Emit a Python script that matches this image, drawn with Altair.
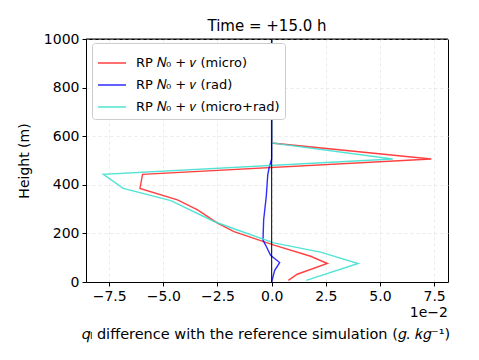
import altair as alt
import pandas as pd

series_names = ["RP 𝑁₀ + 𝜈 (micro)", "RP 𝑁₀ + 𝜈 (rad)", "RP 𝑁₀ + 𝜈 (micro+rad)"]
series_colors = ["#ff0000", "#0000ff", "#40e0d0"]

micro_h = [1000, 572, 506, 443, 385, 338, 297, 242, 207, 152, 106, 76, 32, 7]
micro_x = [0, 0, 7.37, -5.96, -6.08, -4.35, -3.42, -2.5, -1.74, 0.11, 1.8, 2.57, 1.18, 0.77]

rad_h = [1000, 506, 469, 441, 351, 255, 172, 152, 110, 80, 48, 0]
rad_x = [0, 0, -0.12, -0.18, -0.25, -0.37, -0.4, -0.28, -0.05, 0.37, 0.14, 0]

both_h = [1000, 572, 506, 443, 385, 335, 249, 214, 161, 123, 76, 7]
both_x = [0, 0, 5.59, -7.77, -6.85, -4.65, -2.66, -1.58, 0.1, 2.26, 3.99, 1.6]

x_ticks = [-7.5, -5.0, -2.5, 0.0, 2.5, 5.0, 7.5]
y_ticks = [0, 200, 400, 600, 800, 1000]

rows = []
for name, hs, xs in zip(series_names, [micro_h, rad_h, both_h], [micro_x, rad_x, both_x]):
    for i, (h, x) in enumerate(zip(hs, xs)):
        rows.append({"series": name, "h": h, "x": x, "i": i})
df = pd.DataFrame(rows)

FONT = "DejaVu Sans"
W, H = 362, 243

xscale = alt.Scale(domain=[-8.57, 8.14], nice=False, zero=False)
yscale = alt.Scale(domain=[0, 1000], nice=False)

lines = alt.Chart(df).mark_line(strokeWidth=1.4).encode(
    x=alt.X("x:Q", scale=xscale,
            axis=alt.Axis(values=x_ticks, title=None,
                          labelExpr="replace(format(datum.value, '.1f'), '-', '−')")),
    y=alt.Y("h:Q", scale=yscale,
            axis=alt.Axis(values=y_ticks, title="Height (m)", format="d")),
    color=alt.Color("series:N",
                    scale=alt.Scale(domain=series_names, range=series_colors),
                    legend=alt.Legend(title=None, orient="none", legendX=6, legendY=4,
                                      symbolType="stroke", symbolSize=784,
                                      symbolStrokeWidth=1.5,
                                      labelFontSize=13, labelFont=FONT,
                                      labelOffset=9,
                                      padding=5, rowPadding=0,
                                      strokeColor="#cccccc", fillColor="white",
                                      cornerRadius=3)),
    opacity=alt.Opacity("series:N",
                        scale=alt.Scale(domain=series_names, range=[0.75, 0.9, 0.8]),
                        legend=None),
    order=alt.Order("i:Q"),
)

vline = alt.Chart(pd.DataFrame({"v": [0]})).mark_rule(color="black", strokeWidth=1).encode(
    x=alt.X("v:Q", scale=xscale)
)

top_border = alt.Chart(pd.DataFrame({"b": [0]})).mark_rule(color="black", strokeWidth=1).encode(
    x=alt.value(0), x2=alt.value(W), y=alt.value(0)
)

offset_text = alt.Chart(pd.DataFrame({"t": ["1e−2"]})).mark_text(
    align="right", baseline="middle", fontSize=14, font=FONT, color="black"
).encode(x=alt.value(W), y=alt.value(H + 31), text="t:N")

xtitle = alt.Chart(pd.DataFrame({"t": ["𝑞ₗ difference with the reference simulation (𝑔. 𝑘𝑔⁻¹)"]})).mark_text(
    align="center", baseline="middle", fontSize=14.5, font=FONT, color="black"
).encode(x=alt.value(W / 2 - 1), y=alt.value(H + 53), text="t:N")

chart = alt.layer(lines, vline, top_border, offset_text, xtitle).properties(
    width=W, height=H,
    title=alt.TitleParams("Time = +15.0 h", fontSize=15, font=FONT, fontWeight="normal",
                          offset=6, dy=8),
    autosize=alt.AutoSizeParams(type="none"),
    padding={"left": 86, "top": 39, "right": 31, "bottom": 78},
    background="white",
).configure_axis(
    labelFont=FONT, labelFontSize=14, labelColor="black",
    titleFont=FONT, titleFontSize=14, titleFontWeight="normal", titleColor="black",
    domainColor="black", tickColor="black", tickSize=4,
    grid=True, gridColor="#e6e6e6", gridDash=[3, 3], gridWidth=0.8,
    labelPadding=3,
).configure_axisY(titlePadding=12).configure_view(
    stroke="black", strokeWidth=1
)

chart.save("out.html", embed_options={"renderer": "svg", "actions": False})
